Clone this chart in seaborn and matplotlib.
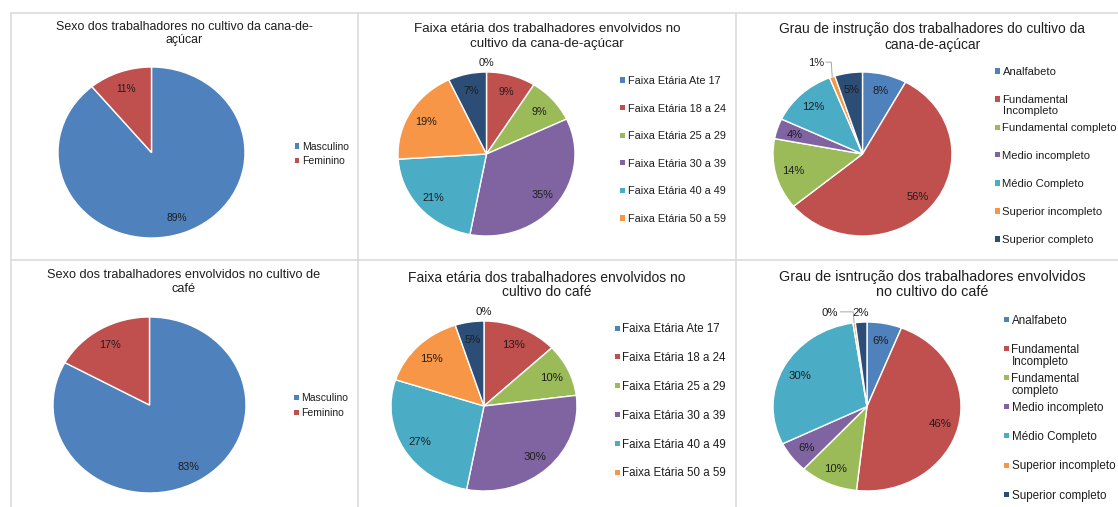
import numpy as np
import matplotlib
matplotlib.use("Agg")
import matplotlib.pyplot as plt
from matplotlib.patches import Rectangle
from matplotlib.lines import Line2D
import seaborn as sns

# ---------------------------------------------------------------- data
sexo_labels = ["Masculino", "Feminino"]
sexo_cana = [89, 11]
sexo_cafe = [83, 17]

faixa_labels = ["Faixa Etária Ate 17", "Faixa Etária 18 a 24", "Faixa Etária 25 a 29",
                "Faixa Etária 30 a 39", "Faixa Etária 40 a 49", "Faixa Etária 50 a 59"]
faixa_cana = [0, 9, 9, 35, 21, 19, 7]
faixa_cafe = [0, 13, 10, 30, 27, 15, 5]

instrucao_labels_cana = ["Analfabeto", "Fundamental\nIncompleto", "Fundamental completo",
                         "Medio incompleto", "Médio Completo", "Superior incompleto",
                         "Superior completo"]
instrucao_labels_cafe = ["Analfabeto", "Fundamental\nIncompleto", "Fundamental\ncompleto",
                         "Medio incompleto", "Médio Completo", "Superior incompleto",
                         "Superior completo"]
instrucao_cana = [8, 56, 14, 4, 12, 1, 5]
instrucao_cafe = [6, 46, 10, 6, 30, 0.4, 2]

titulos = [
    ["Sexo dos trabalhadores no cultivo da cana-de-", "açúcar"],
    ["Faixa etária dos trabalhadores envolvidos no", "cultivo da cana-de-açúcar"],
    ["Grau de instrução dos trabalhadores do cultivo da", "cana-de-açúcar"],
    ["Sexo dos trabalhadores envolvidos no cultivo de", "café"],
    ["Faixa etária dos trabalhadores envolvidos no", "cultivo do café"],
    ["Grau de isntrução dos trabalhadores envolvidos", "no cultivo do café"],
]

# ---------------------------------------------------------------- style
sns.set_theme(style="white")
plt.rcParams["font.family"] = ["Liberation Sans", "DejaVu Sans"]
paleta = sns.color_palette(["#4F81BD", "#C0504D", "#9BBB59", "#8064A2",
                            "#4BACC6", "#F79646", "#2C4D75"])
TXT = "#1e1e1e"

W, H = 1118, 507
fig = plt.figure(figsize=(W / 100, H / 100), dpi=100)
fig.patch.set_facecolor("white")


def fx(x):
    return x / W


def fy(y):
    return 1 - y / H


# panel frame lines
grid = dict(color="#d9d9d9", linewidth=1.1, transform=fig.transFigure)
for yy in (13, 259.5):
    fig.add_artist(Line2D([fx(10.5), fx(W)], [fy(yy), fy(yy)], **grid))
for xx in (10.5, 358, 736):
    fig.add_artist(Line2D([fx(xx), fx(xx)], [fy(13), fy(H)], **grid))


def draw_pie(box, values, fs, callouts):
    x0, y0, x1, y1 = box
    ax = fig.add_axes([fx(x0), fy(y1), fx(x1 - x0), (y1 - y0) / H])
    wedges, _ = ax.pie(values, colors=paleta[:len(values)], startangle=90,
                       counterclock=False, radius=1,
                       wedgeprops=dict(edgecolor="white", linewidth=1.0))
    ax.set_aspect("auto")
    ax.set_xlim(-1, 1)
    ax.set_ylim(-1, 1)
    for i, (w, v) in enumerate(zip(wedges, values)):
        mid = np.deg2rad((w.theta1 + w.theta2) / 2)
        label = f"{v:.0f}%"
        if i in callouts:
            dx = callouts[i]
            tx, ty = 1.12 * np.cos(mid) + dx, 1.12
            ax.text(tx, ty, label, ha="center", va="center_baseline",
                    fontsize=fs, color=TXT, clip_on=False)
            if dx != 0:
                ex, ey = np.cos(mid), np.sin(mid)
                ax.plot([tx + 0.11, ex - 0.01, ex], [ty, ty, ey],
                        color="#a6a6a6", lw=0.7, clip_on=False)
        else:
            r = 0.8
            ax.text(r * np.cos(mid), r * np.sin(mid), label, ha="center",
                    va="center_baseline", fontsize=fs, color=TXT)
    return ax


def draw_title(cx, ys, lines, fs):
    for y, line in zip(ys, lines):
        fig.text(fx(cx), fy(y), line, ha="center", va="center_baseline",
                 fontsize=fs, color=TXT)


def draw_legend(xm, y0, step, labels, fs, line_h=11.5):
    for k, lab in enumerate(labels):
        y = y0 + k * step
        fig.add_artist(Rectangle((fx(xm - 2.5), fy(y + 2.5)), 5 / W, 5 / H,
                                 transform=fig.transFigure,
                                 facecolor=paleta[k], edgecolor="none"))
        for j, part in enumerate(lab.split("\n")):
            fig.text(fx(xm + 5.5), fy(y + j * line_h), part, ha="left",
                     va="center_baseline", fontsize=fs, color=TXT)


# -------- top row: cana-de-açúcar
draw_title(184, [26, 38.5], titulos[0], 8.9)
draw_pie((58, 67, 245, 238), sexo_cana, 7.4, {})
draw_legend(297, 146, 14.5, sexo_labels, 7.5)

draw_title(547, [27, 42.5], titulos[1], 9.6)
draw_pie((398, 72, 575, 236), faixa_cana, 7.8, {0: 0.0})
draw_legend(622, 80, 27.6, faixa_labels, 7.8)

draw_title(932, [28, 43], titulos[2], 9.9)
draw_pie((773, 72, 952, 236), instrucao_cana, 8.0, {5: -0.14})
draw_legend(997, 71, 28, instrucao_labels_cana, 8.1, 11)

# -------- bottom row: café
draw_title(184, [274, 287.5], titulos[3], 9.2)
draw_pie((53, 317, 246, 493), sexo_cafe, 7.8, {})
draw_legend(296, 397, 15, sexo_labels, 7.5)

draw_title(547, [276, 290.5], titulos[4], 10.0)
draw_pie((391, 321, 577, 491), faixa_cafe, 8.2, {0: 0.0})
draw_legend(617, 328, 28.8, faixa_labels, 8.3)

draw_title(932, [276, 291], titulos[5], 10.4)
draw_pie((773, 322, 961, 491), instrucao_cafe, 8.2, {5: -0.24, 6: 0.0})
draw_legend(1006, 319, 29.2, instrucao_labels_cafe, 8.4, 12)

fig.savefig("out.png", dpi=100, facecolor="white")
